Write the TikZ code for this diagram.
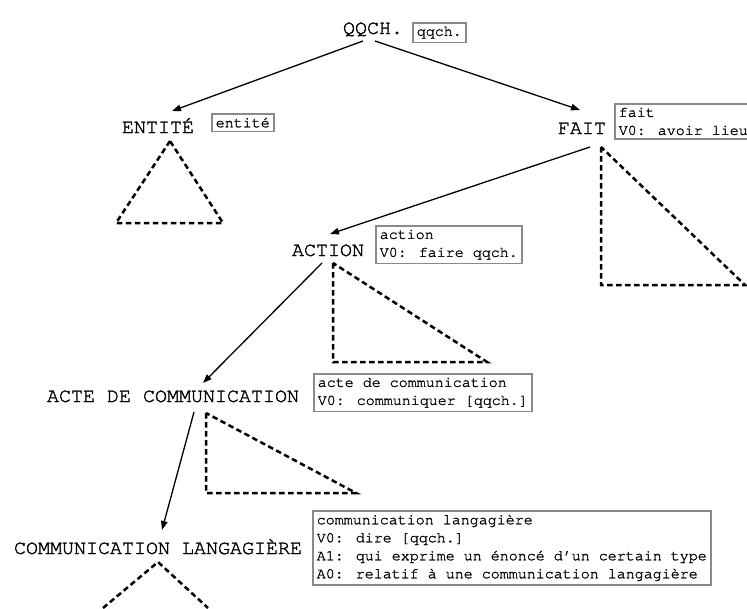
\documentclass[tikz,border=0pt]{standalone}
\usepackage{fontspec}
\newfontfamily\monofam[FakeBold=1.6]{TeX Gyre Cursor}
\newfontfamily\boxfam[FakeBold=1.2]{TeX Gyre Cursor}
\usetikzlibrary{arrows.meta,calc}
\definecolor{boxgray}{HTML}{8A8A8A}
\begin{document}
\begin{tikzpicture}[x=1pt,y=-1pt,
  lab/.style={font=\monofam\fontsize{20}{24}\selectfont, inner sep=0pt, anchor=base},
  gloss/.style={draw=boxgray, line width=1.5pt, font=\boxfam\fontsize{15}{18}\selectfont, align=left, anchor=north west, inner xsep=4pt, inner ysep=4pt},
  arr/.style={line width=1.3pt, -{Triangle[length=9pt,width=6.5pt]}},
  tri/.style={line width=2.5pt, dash pattern=on 5.5pt off 3.5pt}]
\useasboundingbox (0,0) rectangle (747,608);

\node[lab] (qqch) at (373,34) {QQCH.};
\node[gloss] (gq) at (412,22) {qqch.};
\node[lab] (ent) at (158,133) {ENTITÉ};
\node[gloss] (ge) at (211,113) {entité};
\node[lab] (fait) at (582,134) {FAIT};
\node[gloss] (gf) at (614,103) {fait\\V0: avoir lieu};
\node[lab] (act) at (328,256) {ACTION};
\node[gloss] (ga) at (375,225) {action\\V0: faire qqch.};
\node[lab] (acte) at (173,402) {ACTE DE COMMUNICATION};
\node[gloss] (gac) at (313,373) {acte de communication\\V0: communiquer [qqch.]};
\node[lab] (cl) at (158,554) {COMMUNICATION LANGAGIÈRE};
\node[gloss] (gcl) at (312,510) {communication langagière\\V0: dire [qqch.]\\A1: qui exprime un énoncé d’un certain type\\A0: relatif à une communication langagière};

\draw[arr] ($(qqch.base)+(-10,7)$) -- ($(ent.base)+(14,-22)$);
\draw[arr] ($(qqch.base)+(2,7)$) -- ($(fait.base)+(-2,-24)$);
\draw[arr] ($(fait.base)+(8,13)$) -- ($(act.base)+(2,-22)$);
\draw[arr] ($(act.base)+(-6,7)$) -- ($(acte.base)+(30,-19)$);
\draw[arr] ($(acte.base)+(21,10)$) -- ($(cl.base)+(4,-24)$);

\draw[tri] ($(ent.base)+(12,8)$) -- ($(ent.base)+(-42,90)$) -- ($(ent.base)+(65,90)$) -- cycle;
\draw[tri] ($(fait.base)+(19,13)$) -- ($(fait.base)+(19,151)$) -- ($(fait.base)+(163,151)$) -- cycle;
\draw[tri] ($(act.base)+(5,7)$) -- ($(act.base)+(5,106)$) -- ($(act.base)+(159,106)$) -- cycle;
\draw[tri] ($(acte.base)+(33,11)$) -- ($(acte.base)+(33,91)$) -- ($(acte.base)+(183,91)$) -- cycle;
\draw[tri] ($(cl.base)+(-55,54)$) -- ($(cl.base)+(0,8)$) -- ($(cl.base)+(50,54)$);
\end{tikzpicture}
\end{document}
